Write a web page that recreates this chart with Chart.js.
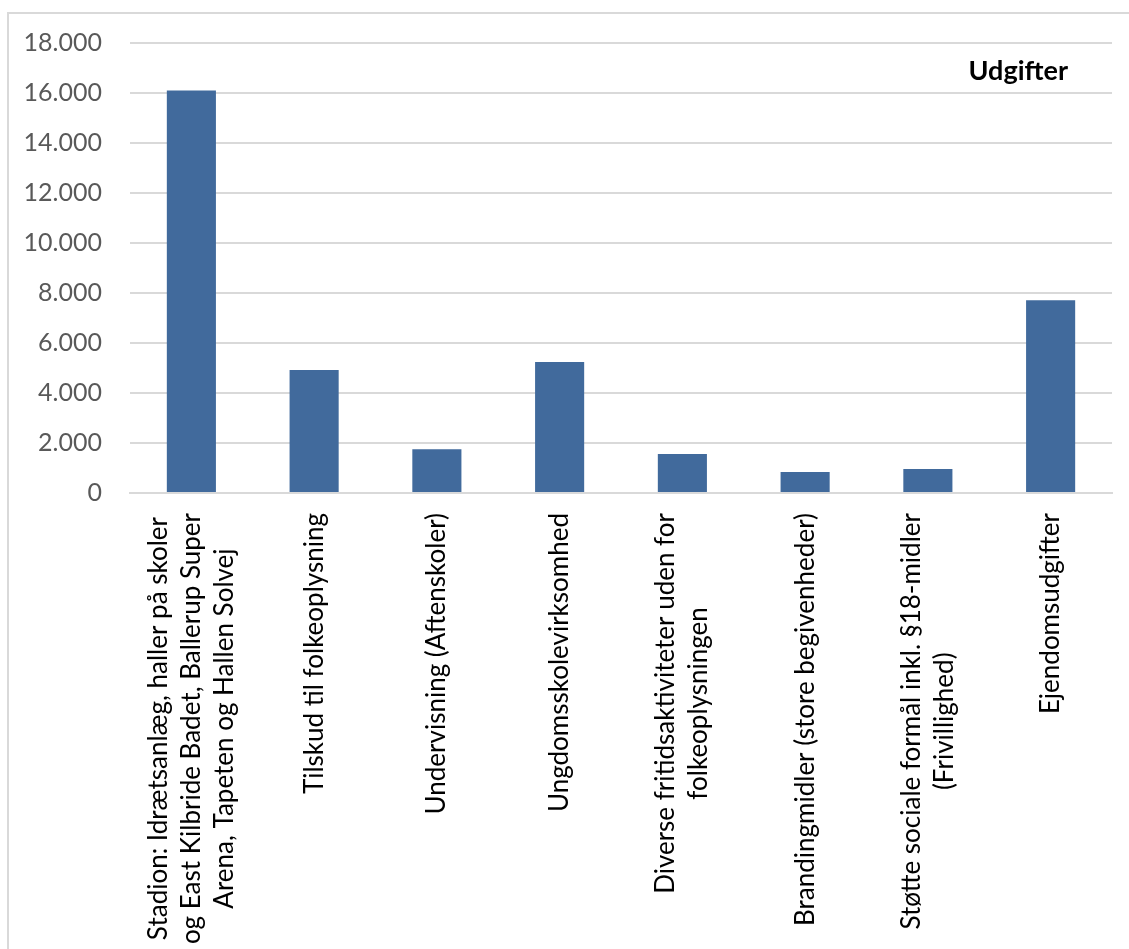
<!DOCTYPE html>
<html>
<head>
<meta charset="utf-8">
<script src="https://cdn.jsdelivr.net/npm/chart.js@4.4.0/dist/chart.umd.min.js"></script>
<style>
  html, body { margin: 0; padding: 0; background: #fff; overflow: hidden; }
  #frame { position: absolute; left: 7px; top: 12px; width: 1200px; height: 1000px;
           border-top: 2px solid #d9d9d9; border-left: 2px solid #d9d9d9; }
  #wrap { position: absolute; left: 0; top: 0; width: 1129px; height: 949px; }
</style>
</head>
<body>
<div id="frame"></div>
<div id="wrap"><canvas id="udgifterChart"></canvas></div>
<script>
// Categories (one array of lines per category)
const categories = [
  ['Stadion: Idrætsanlæg, haller på skoler', 'og East Kilbride Badet, Ballerup Super', 'Arena, Tapeten og Hallen Solvej'],
  ['Tilskud til folkeoplysning'],
  ['Undervisning (Aftenskoler)'],
  ['Ungdomsskolevirksomhed'],
  ['Diverse fritidsaktiviteter uden for', 'folkeoplysningen'],
  ['Brandingmidler (store begivenheder)'],
  ['Støtte sociale formål inkl. §18-midler', '(Frivillighed)'],
  ['Ejendomsudgifter'],
];

// Series values
const seriesName = 'Udgifter';
const udgifter = [16100, 4920, 1750, 5240, 1560, 840, 960, 7710];

// Y tick values
const yTickValues = [0, 2000, 4000, 6000, 8000, 10000, 12000, 14000, 16000, 18000];

const fontFamily = 'Lato, "Open Sans", sans-serif';
const xLabelSize = 26;
const xLineHeight = 33;

// Danish thousands separator
function formatDa(v) {
  return String(v).replace(/\B(?=(\d{3})+(?!\d))/g, '.');
}

// Rotated category labels, block centered under each bar, lines centered
const xLabelPlugin = {
  id: 'xLabels',
  afterDraw(chart) {
    const ctx = chart.ctx;
    const x = chart.scales.x;
    ctx.save();
    ctx.font = xLabelSize + 'px ' + fontFamily;
    ctx.fillStyle = '#000';
    ctx.textAlign = 'center';
    ctx.textBaseline = 'middle';
    categories.forEach((lines, i) => {
      const cx = x.getPixelForTick(i);
      const maxW = Math.max(...lines.map(l => ctx.measureText(l).width));
      const midY = x.top + 20 + maxW / 2;
      lines.forEach((line, j) => {
        ctx.save();
        ctx.translate(cx + (j - (lines.length - 1) / 2) * xLineHeight, midY);
        ctx.rotate(-Math.PI / 2);
        ctx.fillText(line, 0, 0);
        ctx.restore();
      });
    });
    ctx.restore();
  }
};

// Series name shown inside the plot, top right (legend without a swatch)
const seriesLabelPlugin = {
  id: 'seriesLabel',
  afterDraw(chart) {
    const ctx = chart.ctx;
    const area = chart.chartArea;
    ctx.save();
    ctx.font = 'bold 27px ' + fontFamily;
    ctx.fillStyle = '#000';
    ctx.textAlign = 'right';
    ctx.textBaseline = 'middle';
    ctx.fillText(chart.data.datasets[0].label, area.right - 44, area.top + 28);
    ctx.restore();
  }
};

const data = {
  labels: categories,
  datasets: [
    {
      label: seriesName,
      data: udgifter,
      backgroundColor: '#416a9c',
      borderWidth: 0,
      barPercentage: 0.4,
      categoryPercentage: 1.0,
    },
  ],
};

const config = {
  type: 'bar',
  data: data,
  plugins: [xLabelPlugin, seriesLabelPlugin],
  options: {
    responsive: true,
    maintainAspectRatio: false,
    animation: false,
    layout: { padding: { left: 10, right: 17, top: 43, bottom: 0 } },
    plugins: {
      tooltip: { enabled: false },
      legend: { display: false },
    },
    scales: {
      x: {
        grid: { display: false, drawTicks: false },
        border: { color: '#d9d9d9', width: 2 },
        ticks: { display: false },
        afterFit: (scale) => { scale.height = 456; },
      },
      y: {
        min: 0,
        max: 18000,
        afterBuildTicks: (scale) => { scale.ticks = yTickValues.map(v => ({ value: v })); },
        grid: { color: '#d9d9d9', lineWidth: 2, drawTicks: false },
        border: { display: false },
        ticks: {
          padding: 28,
          color: '#595959',
          font: { family: fontFamily, size: 25 },
          callback: (v) => formatDa(v),
        },
        afterFit: (scale) => { scale.width = 120; },
      },
    },
  },
};

const ctx = document.getElementById('udgifterChart').getContext('2d');
new Chart(ctx, config);
</script>
</body>
</html>
